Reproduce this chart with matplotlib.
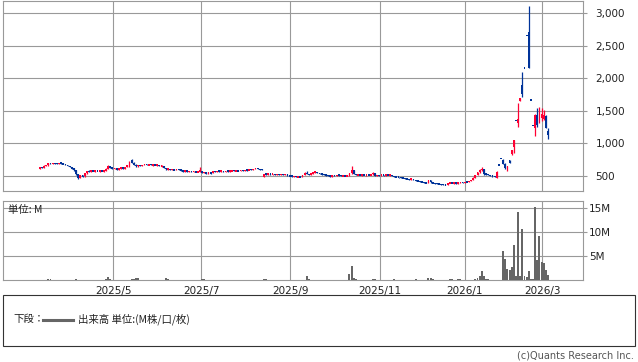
import matplotlib
matplotlib.use('Agg')
import matplotlib.pyplot as plt
from matplotlib.patches import Rectangle
from matplotlib.lines import Line2D

# ---------------- data (trading-day index 0..238) ----------------
opens = [615, 632, 625, 658, 664, 695, 690, 697, 692, 688,
         700, 693, 684, 670, 652, 636, 616, 585, 525, 470,
         512, 495, 540, 575, 566, 580, 574, 578, 572, 577,
         573, 578, 612, 655, 630, 615, 620, 600, 612, 626,
         614, 636, 662, 740, 705, 675, 648, 668, 660, 668,
         680, 668, 678, 670, 674, 665, 668, 655, 658, 625,
         600, 608, 595, 600, 592, 604, 595, 585, 566, 580,
         570, 574, 565, 570, 560, 566, 580, 552, 558, 540,
         550, 545, 570, 565, 578, 570, 575, 565, 578, 572,
         576, 585, 578, 582, 578, 586, 582, 592, 588, 600,
         596, 610, 620, 605, 600, 490, 530, 525, 532, 526,
         528, 524, 526, 520, 524, 518, 522, 508, 500, 492,
         496, 486, 490, 482, 515, 548, 530, 520, 540, 555,
         562, 545, 535, 525, 520, 510, 500, 495, 508, 505,
         515, 510, 502, 505, 500, 506, 540, 585, 530, 515,
         518, 512, 516, 510, 518, 512, 525, 550, 505, 512,
         508, 514, 510, 518, 510, 515, 498, 490, 484, 480,
         472, 466, 460, 452, 445, 455, 436, 430, 422, 415,
         405, 398, 392, 432, 400, 390, 385, 380, 375, 370,
         366, 362, 390, 400, 390, 396, 386, 392, 402, 398,
         408, 404, 422, 440, 475, 515, 555, 595, 602, 540,
         528, 515, 505, 494, 470, 666, 766, 740, 690, 585,
         745, 837, 950, 1350, 1315, 1650, 1900, 2160, 2660, 2710,
         1670, 1275, 1235, 1430, 1370, 1390, 1380, 1425, 1190]
highs = [638, 640, 662, 668, 700, 705, 700, 702, 698, 702,
         706, 698, 690, 676, 660, 642, 622, 590, 530, 520,
         518, 545, 582, 585, 585, 584, 582, 583, 580, 582,
         580, 620, 670, 660, 636, 625, 624, 615, 630, 635,
         640, 668, 725, 758, 712, 680, 672, 675, 672, 686,
         685, 682, 684, 678, 680, 672, 670, 662, 660, 630,
         612, 612, 605, 604, 608, 610, 600, 590, 585, 584,
         578, 578, 575, 574, 570, 640, 584, 562, 562, 556,
         555, 575, 578, 582, 582, 580, 580, 582, 584, 580,
         590, 590, 586, 588, 590, 592, 596, 598, 605, 606,
         615, 625, 626, 610, 604, 535, 538, 535, 536, 532,
         534, 530, 530, 528, 530, 526, 526, 512, 505, 500,
         500, 494, 495, 520, 555, 572, 535, 545, 560, 568,
         566, 550, 540, 532, 526, 515, 506, 512, 515, 520,
         520, 515, 510, 512, 512, 545, 658, 595, 535, 522,
         524, 520, 522, 520, 522, 530, 555, 552, 515, 518,
         516, 518, 520, 522, 518, 518, 502, 495, 490, 485,
         478, 472, 465, 458, 458, 458, 442, 436, 428, 420,
         412, 405, 440, 438, 405, 396, 392, 386, 382, 378,
         372, 395, 405, 404, 400, 400, 395, 405, 406, 412,
         415, 425, 445, 480, 520, 560, 600, 632, 606, 545,
         532, 520, 510, 498, 570, 666, 766, 760, 700, 660,
         750, 905, 1050, 1350, 1615, 1700, 2100, 2160, 2660, 3110,
         1670, 1275, 1460, 1540, 1555, 1540, 1520, 1445, 1230]
lows = [605, 620, 622, 648, 660, 688, 684, 688, 684, 686,
        690, 680, 668, 650, 632, 612, 580, 515, 450, 465,
        488, 492, 536, 560, 562, 570, 568, 570, 566, 570,
        568, 575, 605, 625, 610, 600, 596, 595, 606, 610,
        612, 632, 640, 700, 670, 640, 645, 655, 655, 662,
        664, 662, 666, 660, 662, 655, 650, 640, 620, 596,
        592, 590, 590, 588, 588, 590, 580, 560, 560, 566,
        562, 560, 560, 555, 555, 560, 545, 540, 535, 535,
        538, 540, 560, 560, 565, 562, 560, 562, 568, 565,
        570, 572, 570, 574, 575, 578, 580, 584, 585, 590,
        592, 605, 600, 595, 592, 485, 520, 520, 522, 518,
        520, 516, 515, 512, 516, 510, 505, 495, 488, 486,
        482, 478, 478, 480, 512, 525, 515, 518, 535, 548,
        540, 530, 520, 515, 505, 495, 488, 490, 500, 500,
        505, 498, 495, 498, 496, 502, 535, 525, 512, 508,
        510, 505, 508, 505, 508, 508, 520, 500, 500, 505,
        502, 505, 506, 508, 502, 495, 488, 480, 475, 468,
        462, 455, 448, 442, 440, 432, 425, 418, 410, 400,
        392, 388, 385, 395, 385, 378, 372, 370, 365, 362,
        358, 360, 385, 385, 384, 382, 382, 388, 394, 396,
        400, 402, 420, 436, 470, 510, 550, 580, 515, 520,
        510, 500, 490, 485, 465, 666, 766, 685, 600, 575,
        700, 830, 850, 1350, 1255, 1645, 1720, 2160, 2660, 2160,
        1670, 1275, 1115, 1250, 1315, 1340, 1360, 1230, 1075]
closes = [632, 625, 658, 664, 695, 690, 697, 692, 688, 700,
          693, 684, 670, 652, 636, 616, 585, 525, 470, 512,
          495, 540, 575, 566, 580, 574, 578, 572, 577, 573,
          578, 612, 655, 630, 615, 620, 600, 612, 626, 614,
          636, 662, 720, 705, 675, 648, 668, 660, 668, 680,
          668, 678, 670, 674, 665, 668, 655, 658, 625, 600,
          608, 595, 600, 592, 604, 595, 585, 566, 580, 570,
          574, 565, 570, 560, 566, 580, 552, 558, 540, 550,
          545, 570, 565, 578, 570, 575, 565, 578, 572, 576,
          585, 578, 582, 578, 586, 582, 592, 588, 600, 596,
          610, 620, 605, 600, 598, 530, 525, 532, 526, 528,
          524, 526, 520, 524, 518, 522, 508, 500, 492, 496,
          486, 490, 482, 515, 548, 530, 520, 540, 555, 562,
          545, 535, 525, 520, 510, 500, 495, 508, 505, 515,
          510, 502, 505, 500, 506, 540, 585, 530, 515, 518,
          512, 516, 510, 518, 512, 525, 550, 505, 512, 508,
          514, 510, 518, 510, 515, 498, 490, 484, 480, 472,
          466, 460, 452, 445, 455, 436, 430, 422, 415, 405,
          398, 392, 432, 400, 390, 385, 380, 375, 370, 366,
          362, 390, 400, 390, 396, 386, 392, 402, 398, 408,
          404, 422, 440, 475, 515, 555, 595, 602, 525, 528,
          515, 505, 494, 488, 566, 666, 766, 690, 620, 653,
          705, 900, 1050, 1350, 1375, 1700, 1760, 2160, 2660, 2160,
          1670, 1275, 1445, 1280, 1460, 1450, 1440, 1240, 1130]
volumes = [0.1, 0.05, 0.05, 0.1, 0.3, 0.25, 0.05, 0.05, 0.05, 0.05,
           0.05, 0.05, 0.05, 0.05, 0.05, 0.05, 0.05, 0.3, 0.1, 0.05,
           0.05, 0.05, 0.05, 0.05, 0.05, 0.05, 0.05, 0.05, 0.05, 0.05,
           0.05, 0.2, 0.7, 0.3, 0.05, 0.05, 0.05, 0.05, 0.05, 0.05,
           0.05, 0.05, 0.15, 0.25, 0.3, 0.45, 0.4, 0.05, 0.05, 0.05,
           0.05, 0.05, 0.05, 0.05, 0.05, 0.05, 0.05, 0.05, 0.05, 0.45,
           0.3, 0.05, 0.05, 0.05, 0.05, 0.05, 0.05, 0.05, 0.05, 0.05,
           0.05, 0.05, 0.05, 0.05, 0.05, 0.05, 0.2, 0.3, 0.05, 0.05,
           0.05, 0.05, 0.05, 0.05, 0.05, 0.05, 0.05, 0.05, 0.05, 0.05,
           0.05, 0.05, 0.05, 0.05, 0.05, 0.05, 0.05, 0.05, 0.05, 0.05,
           0.05, 0.05, 0.05, 0.05, 0.05, 0.3, 0.2, 0.05, 0.05, 0.05,
           0.05, 0.05, 0.05, 0.05, 0.05, 0.05, 0.05, 0.05, 0.05, 0.05,
           0.05, 0.05, 0.05, 0.05, 0.05, 0.9, 0.3, 0.05, 0.05, 0.05,
           0.05, 0.05, 0.05, 0.05, 0.05, 0.05, 0.05, 0.05, 0.05, 0.05,
           0.05, 0.05, 0.05, 0.05, 0.1, 1.3, 3.0, 0.5, 0.2, 0.05,
           0.05, 0.05, 0.05, 0.05, 0.05, 0.05, 0.3, 0.3, 0.05, 0.05,
           0.05, 0.05, 0.05, 0.05, 0.05, 0.05, 0.3, 0.05, 0.05, 0.05,
           0.05, 0.05, 0.05, 0.05, 0.05, 0.05, 0.25, 0.05, 0.05, 0.05,
           0.05, 0.05, 0.5, 0.4, 0.2, 0.05, 0.05, 0.05, 0.05, 0.05,
           0.05, 0.05, 0.3, 0.3, 0.05, 0.05, 0.3, 0.2, 0.05, 0.05,
           0.05, 0.05, 0.05, 0.05, 0.3, 0.55, 0.9, 2.0, 0.9, 0.3,
           0.2, 0.05, 0.05, 0.05, 0.1, 0.05, 0.05, 6.0, 4.4, 2.4,
           2.2, 2.8, 7.4, 0.8, 14.2, 0.8, 10.6, 0.9, 0.6, 1.9,
           0.3, 0.3, 15.2, 4.2, 9.2, 3.7, 3.5, 2.2, 1.1]

month_pos = [34.5, 75.6, 117.3, 159.2, 199.0, 235.4]
month_labels = ['2025/5', '2025/7', '2025/9', '2025/11', '2026/1', '2026/3']
price_ticks = [500, 1000, 1500, 2000, 2500, 3000]
vol_ticks = [5, 10, 15]
vol_tick_labels = ['5M', '10M', '15M']

# ---------------- style ----------------
RED = '#ff0033'
BLUE = '#003399'
GRID = '#999999'
JP = ['Noto Sans CJK JP', 'DejaVu Sans']

W, H = 638, 362
fig = plt.figure(figsize=(W / 100, H / 100), dpi=100)
fig.patch.set_facecolor('white')


def rect(l, t, r, b):
    return [l / W, 1 - b / H, (r - l) / W, (b - t) / H]


ax1 = fig.add_axes(rect(3.3, 0.7, 583, 190.5))
ax2 = fig.add_axes(rect(3.3, 201, 583, 280.3))

xlim = (-17.1, 254.4)

# candles
for i in range(len(closes)):
    o, h, l, c = opens[i], highs[i], lows[i], closes[i]
    col = RED if c > o else BLUE
    ax1.vlines(i, l, h, color=col, lw=0.9, zorder=3)
    bottom = min(o, c)
    height = abs(c - o)
    if height < 24:
        bottom = (o + c) / 2 - 12
        height = 24
    ax1.bar(i, height, bottom=bottom, width=0.85, color=col, lw=0, zorder=3)

# volume
ax2.bar(range(len(volumes)), volumes, width=0.9, color='#666666', lw=0, zorder=3)

for ax in (ax1, ax2):
    ax.set_xlim(*xlim)
    ax.set_xticks(month_pos)
    ax.grid(True, color=GRID, lw=0.8)
    ax.set_axisbelow(True)
    for s in ax.spines.values():
        s.set_color(GRID)
        s.set_linewidth(0.8)
    ax.yaxis.tick_right()
    ax.tick_params(axis='y', colors=GRID, length=3, width=0.8, labelcolor='#222222',
                   labelsize=7.5)
    ax.tick_params(axis='x', length=0, labelsize=7.5, labelcolor='#222222')

ax1.set_ylim(277, 3194)
ax1.set_yticks(price_ticks)
ax1.set_yticklabels([f'{v:,}' for v in price_ticks])
ax1.tick_params(axis='y', pad=6)
ax1.tick_params(axis='x', labelbottom=False)

ax2.set_ylim(0, 16.4)
ax2.set_yticks(vol_ticks)
ax2.set_yticklabels(vol_tick_labels)
ax2.tick_params(axis='y', pad=1.5)
ax2.set_xticklabels(month_labels)
ax2.tick_params(axis='x', pad=4)

fig.text(8 / W, 1 - 210 / H, '単位: M', va='center', ha='left', fontsize=7.5,
         family=JP, color='#222222')

# legend box
fig.patches.append(Rectangle((3.3 / W, 1 - 345.7 / H), (634.7 - 3.3) / W, (345.7 - 295) / H,
                             transform=fig.transFigure, fill=False, edgecolor='#333333',
                             lw=0.8))
fig.text(13.3 / W, 1 - 319 / H, '下段：', va='center', ha='left', fontsize=7.5,
         family=JP, color='#222222')
fig.lines.append(Line2D([43.3 / W, 73.3 / W], [1 - 319.5 / H, 1 - 319.5 / H],
                        transform=fig.transFigure, color='#666666', lw=2.2))
fig.text(78.3 / W, 1 - 319 / H, '出来高 単位:(M株/口/枚)', va='center', ha='left',
         fontsize=7.5, family=JP, color='#222222')
fig.text(634 / W, 1 - 355 / H, '(c)Quants Research Inc.', va='center', ha='right',
         fontsize=7, color='#555555')

fig.savefig('out.png', dpi=100, facecolor='white')
